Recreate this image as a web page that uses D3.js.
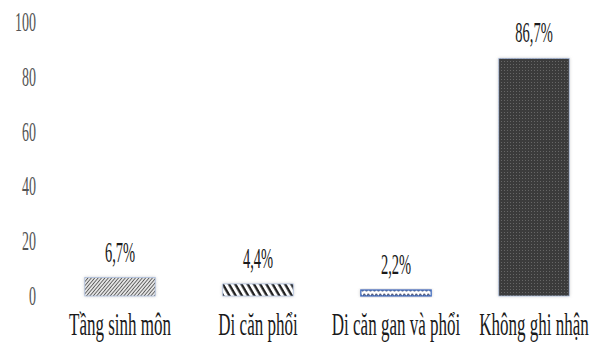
<!DOCTYPE html>
<html>
<head>
<meta charset="utf-8">
<script src="https://cdn.jsdelivr.net/npm/d3@7"></script>
<style>
  body { margin: 0; background: #fff; }
  text { font-family: "Liberation Serif", "Times New Roman", serif; fill: #1a1a1a; }
</style>
</head>
<body>
<div id="chart"></div>
<script>
// Bar chart with patterned bars, values in %
const categories = ["Tầng sinh môn", "Di căn phổi", "Di căn gan và phổi", "Không ghi nhận"];
const values = [6.7, 4.4, 2.2, 86.7];
const valueLabels = ["6,7%", "4,4%", "2,2%", "86,7%"];
const yTicks = [0, 20, 40, 60, 80, 100];
const patterns = ["p-fwd", "p-back", "p-wave", "p-grid"];

const width = 605, height = 343;
const margin = { top: 22, right: 2, bottom: 47, left: 51 };
const plot_width = width - margin.left - margin.right;
const plot_height = height - margin.top - margin.bottom;

const svg = d3.select("#chart").append("svg")
  .attr("width", width).attr("height", height);

// PATTERNS
const defs = svg.append("defs");

const p1 = defs.append("pattern").attr("id", "p-fwd")
  .attr("patternUnits", "userSpaceOnUse").attr("width", 2.6).attr("height", 2.6)
  .attr("patternTransform", "rotate(40)");
p1.append("rect").attr("width", 2.6).attr("height", 2.6).attr("fill", "#e4e4e4");
p1.append("line").attr("x1", 0).attr("y1", 0).attr("x2", 0).attr("y2", 2.6)
  .attr("stroke", "#444").attr("stroke-width", 1.5);

const p2 = defs.append("pattern").attr("id", "p-back")
  .attr("patternUnits", "userSpaceOnUse").attr("width", 5.4).attr("height", 5.4)
  .attr("patternTransform", "rotate(-30)");
p2.append("rect").attr("width", 5.4).attr("height", 5.4).attr("fill", "#fff");
p2.append("line").attr("x1", 1.5).attr("y1", 0).attr("x2", 1.5).attr("y2", 5.4)
  .attr("stroke", "#1a1a1a").attr("stroke-width", 2.3);

const p3 = defs.append("pattern").attr("id", "p-wave")
  .attr("patternUnits", "userSpaceOnUse").attr("width", 4).attr("height", 6)
  .attr("y", 0.5);
p3.append("rect").attr("width", 4).attr("height", 6).attr("fill", "#fff");
p3.append("path").attr("d", "M0,4.2 Q1,0.8 2,2.6 Q3,4.2 4,4.2")
  .attr("fill", "none").attr("stroke", "#2b3560").attr("stroke-width", 1.4);

const p4 = defs.append("pattern").attr("id", "p-grid")
  .attr("patternUnits", "userSpaceOnUse").attr("width", 3).attr("height", 3);
p4.append("rect").attr("width", 3).attr("height", 3).attr("fill", "#3a3a3a");
p4.append("rect").attr("width", 1).attr("height", 1).attr("fill", "#666");

const shadow = defs.append("filter").attr("id", "glow")
  .attr("x", "-20%").attr("y", "-20%").attr("width", "140%").attr("height", "140%");
shadow.append("feDropShadow").attr("dx", 0).attr("dy", 0)
  .attr("stdDeviation", 1.6).attr("flood-color", "#bbb").attr("flood-opacity", 0.8);

const plot = svg.append("g")
  .attr("transform", `translate(${margin.left},${margin.top})`);

// SCALES
const xScale = d3.scaleBand().domain(categories).range([0, plot_width]).paddingInner(0.49).paddingOuter(0.245);
const yScale = d3.scaleLinear().domain([0, 100]).range([plot_height, 0]);

// Y AXIS (labels only)
const yAxis = plot.append("g")
  .call(d3.axisLeft(yScale).tickValues(yTicks).tickSize(0).tickPadding(15));
yAxis.select(".domain").remove();
yAxis.selectAll("text")
  .style("font-family", "'Liberation Serif', serif")
  .style("font-size", "14px").style("fill", "#555")
  .attr("transform", "scale(1,1.9)");

// BARS
plot.selectAll(".bar").data(values).join("rect")
  .attr("class", "bar")
  .attr("x", (d, i) => xScale(categories[i]))
  .attr("y", d => yScale(d))
  .attr("width", xScale.bandwidth())
  .attr("height", d => plot_height - yScale(d))
  .attr("fill", (d, i) => `url(#${patterns[i]})`)
  .attr("stroke", (d, i) => i === 2 ? "#4472c4" : "#a9bde0")
  .attr("stroke-width", (d, i) => i === 2 ? 1.3 : 0.7)
  .attr("filter", "url(#glow)");

// VALUE LABELS
plot.selectAll(".val").data(values).join("text")
  .attr("class", "val")
  .attr("text-anchor", "middle")
  .attr("transform", (d, i) =>
    `translate(${xScale(categories[i]) + xScale.bandwidth() / 2},${yScale(d) - 16}) scale(1,2)`)
  .style("font-size", "14.5px")
  .text((d, i) => valueLabels[i]);

// CATEGORY LABELS
plot.selectAll(".cat").data(categories).join("text")
  .attr("class", "cat")
  .attr("text-anchor", "middle")
  .attr("transform", d =>
    `translate(${xScale(d) + xScale.bandwidth() / 2},${plot_height + 39}) scale(1,1.8)`)
  .style("font-size", "17px")
  .text(d => d);
</script>
</body>
</html>
